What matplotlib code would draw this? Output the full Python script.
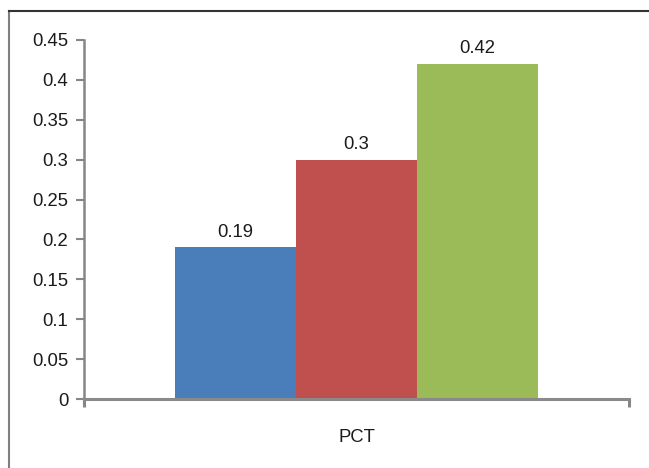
import matplotlib
matplotlib.use("Agg")
import matplotlib.pyplot as plt
from matplotlib.lines import Line2D
from matplotlib.transforms import offset_copy

plt.rcParams['font.family'] = ['Liberation Sans', 'DejaVu Sans']

categories = ["PCT"]
series_values = [0.19, 0.3, 0.42]
series_colors = ["#4A7EBB", "#C0504D", "#9BBB59"]
y_ticks = [0, 0.05, 0.1, 0.15, 0.2, 0.25, 0.3, 0.35, 0.4, 0.45]
y_tick_labels = ["0", "0.05", "0.1", "0.15", "0.2", "0.25", "0.3", "0.35", "0.4", "0.45"]

W, H = 649, 468
FS = 13.3
fig = plt.figure(figsize=(W / 100, H / 100), dpi=100)

# plot area in pixel coordinates
left, right, top, bottom = 84, 629, 40, 399
ax = fig.add_axes([left / W, 1 - bottom / H, (right - left) / W, (bottom - top) / H])

bar_w = 121 / 545
n = len(series_values)
for i, (v, c) in enumerate(zip(series_values, series_colors)):
    x = (i - (n - 1) / 2) * bar_w
    ax.bar(x, v, width=bar_w, color=c, edgecolor='none', zorder=2)
    ax.text(x, v + 0.0085, f"{v:g}", ha='center', va='bottom', fontsize=FS, color='#1a1a1a')

ax.set_xlim(-0.5, 0.5)
ax.set_ylim(0, 0.45)
ax.set_yticks(y_ticks)
ax.set_yticklabels(y_tick_labels)
ax.set_xticks([-0.5, 0.5])
ax.set_xticklabels(["", ""])
ax.tick_params(axis='y', direction='out', length=5.8, width=1.5, color='#868686',
               labelsize=FS, labelcolor='#1a1a1a', pad=5.5)
ax.tick_params(axis='x', direction='out', length=5.8, width=2.2, color='#868686')

# category label below the axis
cat_tr = offset_copy(ax.get_xaxis_transform(), fig=fig, x=0, y=-39 * 72 / 100, units='points')
ax.text(0, 0, categories[0], ha='center', va='center', fontsize=FS,
        color='#1a1a1a', transform=cat_tr, clip_on=False)

for s in ['top', 'right']:
    ax.spines[s].set_visible(False)
ax.spines['left'].set_color('#868686')
ax.spines['left'].set_linewidth(1.8)
ax.spines['bottom'].set_color('#8a8a8a')
ax.spines['bottom'].set_linewidth(2.2)

# chart frame
fig.add_artist(Line2D([8.5 / W, 8.5 / W], [0, 1 - 10.5 / H], color='#7f7f7f', lw=1.5,
                      transform=fig.transFigure))
fig.add_artist(Line2D([8.5 / W, 1], [1 - 10.5 / H, 1 - 10.5 / H], color='#333333', lw=1.5,
                      transform=fig.transFigure))

fig.savefig("out.png", dpi=100)
